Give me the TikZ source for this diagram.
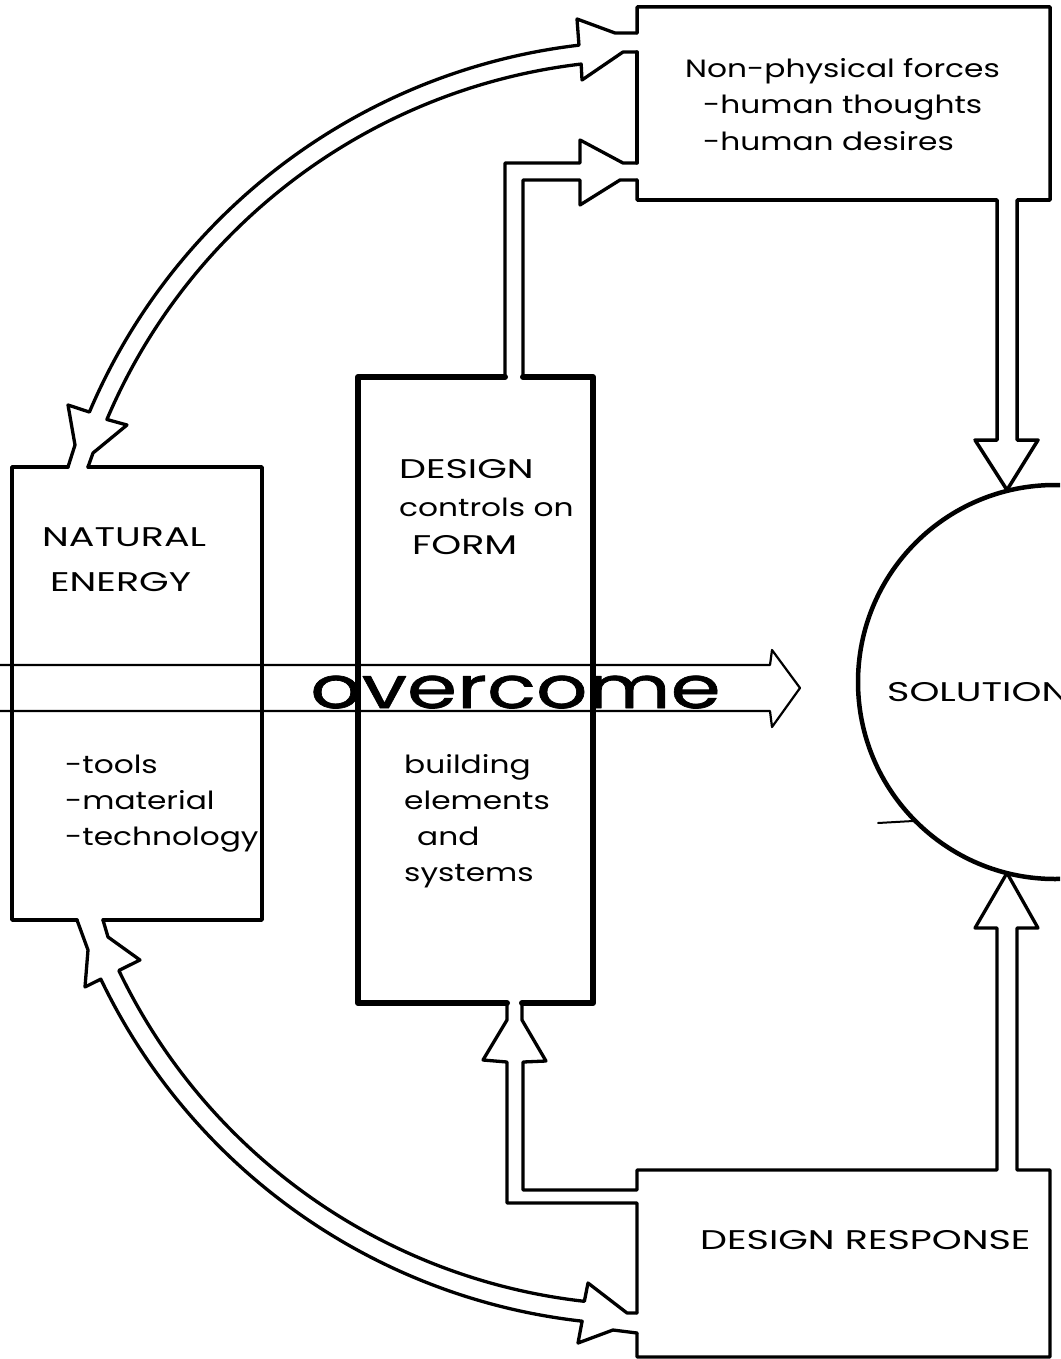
\documentclass[tikz,border=0pt]{standalone}
\usepackage{fontspec}
\setmainfont{Poppins}
\newfontfamily\labfont[FakeStretch=1.25]{Poppins}
\newfontfamily\capfont[FakeStretch=1.41]{Poppins}
\newfontfamily\ovfont[FakeStretch=1.39,FakeBold=1.2]{Poppins}
\usetikzlibrary{calc}
\begin{document}
\begin{tikzpicture}[x=1pt,y=-1pt,
  line join=round, line cap=round,
  wall/.style={line width=3.5pt},
  thickwall/.style={line width=6pt},
  arr/.style={line width=3.3pt},
  thinline/.style={line width=2.2pt},
  lbl/.style={anchor=base west, inner sep=0pt, font=\labfont\fontsize{25}{28}\selectfont},
  caplbl/.style={anchor=base west, inner sep=0pt, font=\capfont\fontsize{27}{30}\selectfont},
]
\useasboundingbox (0,0) rectangle (1060,1359);
\clip (0,0) rectangle (1060,1359);
\coordinate (cU) at (650,650);
\coordinate (cL) at (650,716);
\coordinate (solc) at (1055,682);

% overcome arrow
\draw[thinline] (0,665) -- (770,665) -- (772,650) -- (800,688) -- (772,727) -- (770,711) -- (0,711);
\node[anchor=base west, inner sep=0pt, font=\ovfont\fontsize{58}{58}\selectfont] (ov) at (310,708) {overcome};

% upper arc arrow (Non-physical <-> Natural energy)
\draw[arr] (637,33) -- (615,33) -- (577,19) -- ($(cU)+(263.3:609)$) arc[start angle=263.3, end angle=203, radius=609] -- (68,405) -- (75,445) -- (68,467);
\draw[arr] (637,52) -- (623,52) -- (582,80) -- ($(cU)+(263.3:590)$) arc[start angle=263.3, end angle=203, radius=590] -- (127,425) -- (93,453) -- (88,467);

% lower arc arrow (Natural energy <-> Design response)
\draw[arr] (77,920) -- (88,950) -- (85,987) -- ($(cL)+(154.4:609)$) arc[start angle=154.4, end angle=96.4, radius=609] -- (578,1343) -- (613,1330) -- (637,1333);
\draw[arr] (103,920) -- (108,937) -- (140,960) -- ($(cL)+(154.4:589)$) arc[start angle=154.4, end angle=96.4, radius=589] -- (588,1283) -- (627,1313) -- (637,1313);

% Non-physical forces box with arrow down to solution
\draw[wall] (637,33) -- (637,7) -- (1050,7) -- (1050,200) -- (1017,200) -- (1017,440) -- (1038,440) -- (1007,490) -- (975,440) -- (997,440) -- (997,200) -- (637,200) -- (637,180);
\draw[wall] (637,52) -- (637,163);

% shaft from design box up to non-physical
\draw[arr] (505,377) -- (505,163) -- (580,163) -- (580,140) -- (623,163) -- (637,163);
\draw[arr] (523,377) -- (523,180) -- (580,180) -- (580,205) -- (620,180) -- (637,180);

% design response box, arrow up to design box and up to solution
\draw[arr] (507,1003) -- (507,1020) -- (483,1060) -- (507,1062) -- (507,1203) -- (637,1203) -- (637,1313);
\draw[arr] (522,1003) -- (522,1020) -- (546,1061) -- (523,1062) -- (523,1190) -- (637,1190) -- (637,1170) -- (997,1170) -- (997,928) -- (975,928) -- (1007,873) -- (1038,928) -- (1017,928) -- (1017,1170) -- (1050,1170) -- (1050,1357) -- (637,1357) -- (637,1333);

% natural energy box
\draw[wall] (68,467) -- (12,467) -- (12,920) -- (77,920);
\draw[wall] (103,920) -- (262,920) -- (262,467) -- (88,467);

% design box
\draw[thickwall] (505,377) -- (358,377) -- (358,1003) -- (507,1003);
\draw[thickwall] (522,1003) -- (593,1003) -- (593,377) -- (523,377);

% solution circle
\draw[line width=4.5pt] (solc) circle[radius=197];
\draw[line width=2pt] (878,823) -- (913,821);

% texts
\node[lbl] (np1) at (685,78) {Non-physical forces};
\node[lbl] (np2) at (703,114) {-human thoughts};
\node[lbl] (np3) at (703,151) {-human desires};
\node[caplbl] (ne1) at (42,546) {NATURAL};
\node[caplbl] (ne2) at (50,591) {ENERGY};
\node[lbl] (nt1) at (65,773) {-tools};
\node[lbl] (nt2) at (65,809) {-material};
\node[lbl] (nt3) at (65,845) {-technology};
\node[caplbl] (ds1) at (399,478) {DESIGN};
\node[lbl] (ds2) at (399,516) {controls on};
\node[caplbl] (ds3) at (412,554) {FORM};
\node[lbl] (bs1) at (404,773) {building};
\node[lbl] (bs2) at (404,809) {elements};
\node[lbl] (bs3) at (417,845) {and};
\node[lbl] (bs4) at (404,881) {systems};
\node[caplbl] (sol) at (887,701) {SOLUTION};
\node[caplbl] (dr) at (700,1249) {DESIGN RESPONSE};
\end{tikzpicture}
\end{document}
